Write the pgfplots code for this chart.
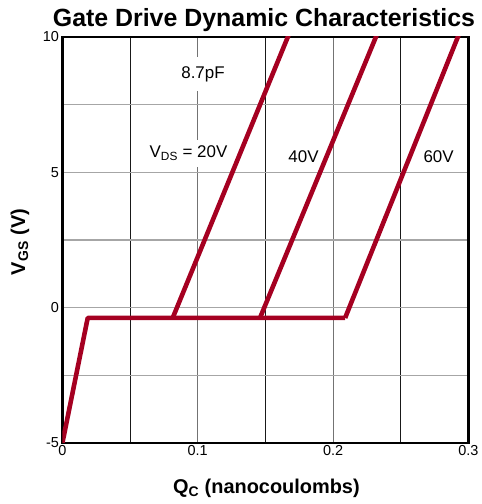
\documentclass[border=0pt]{standalone}
\usepackage{pgfplots}
\pgfplotsset{compat=1.18}
\usepackage{fontspec}
\setmainfont{Liberation Sans}
\definecolor{curve}{HTML}{A50021}
\begin{document}
\begin{tikzpicture}
\begin{axis}[
  at={(0,0)}, anchor=south west,
  scale only axis, width=406bp, height=406bp,
  xmin=0, xmax=0.3, ymin=-5, ymax=10,
  xtick={0,0.1,0.2,0.3}, ytick={-5,0,5,10},
  minor xtick={0.05,0.15,0.25}, minor ytick={-2.5,2.5,7.5},
  xticklabels={0,0.1,0.2,0.3},
  yticklabels={-5,0,5,10},
  grid=both,
  major x grid style={black!55, line width=1.1pt},
  minor x grid style={black!90, line width=0.8pt},
  major y grid style={black!35, line width=1.1pt},
  minor y grid style={black!35, line width=1.1pt},
  major tick length=0pt, minor tick length=0pt,
  axis line style={line width=2.4pt},
  tick label style={font=\fontsize{14.5}{16}\selectfont},
  xticklabel style={yshift=1bp},
  clip=true,
]
\addplot[curve, line width=4.6pt, line join=round] coordinates {
 (0,-5) (0.0187,-0.38) (0.2089,-0.38)};
\addplot[curve, line width=4.6pt] coordinates {(0.0815,-0.38) (0.1682,10.2)};
\addplot[curve, line width=4.6pt] coordinates {(0.1460,-0.38) (0.2333,10.2)};
\addplot[curve, line width=4.6pt] coordinates {(0.2089,-0.38) (0.2938,10.2)};
\node[fill=white, inner xsep=4bp, inner ysep=9bp, anchor=base, font=\fontsize{17}{19}\selectfont] at (axis cs:0.1039,8.48) {8.7pF};
\node[fill=white, inner xsep=3bp, inner ysep=6bp, anchor=base, font=\fontsize{17}{19}\selectfont] at (axis cs:0.0932,5.53) {V\textsubscript{DS} = 20V};
\node[inner sep=1bp, anchor=base, font=\fontsize{17}{19}\selectfont] at (axis cs:0.1782,5.38) {40V};
\node[inner sep=1bp, anchor=base, font=\fontsize{17}{19}\selectfont] at (axis cs:0.278,5.38) {60V};
\end{axis}
\node[anchor=base, font=\bfseries\fontsize{25}{28}\selectfont] at (201.6bp,416bp) {Gate Drive Dynamic Characteristics};
\node[anchor=base, font=\bfseries\fontsize{20}{22}\selectfont] at (204bp,-50bp) {Q\textsubscript{C} (nanocoulombs)};
\node[anchor=base, rotate=90, font=\bfseries\fontsize{20}{22}\selectfont] at (-37.4bp,201bp) {V\textsubscript{GS} (V)};
\pgfresetboundingbox
\path[use as bounding box] (-62.4bp,-61bp) rectangle (419.6bp,443bp);
\end{tikzpicture}
\end{document}
